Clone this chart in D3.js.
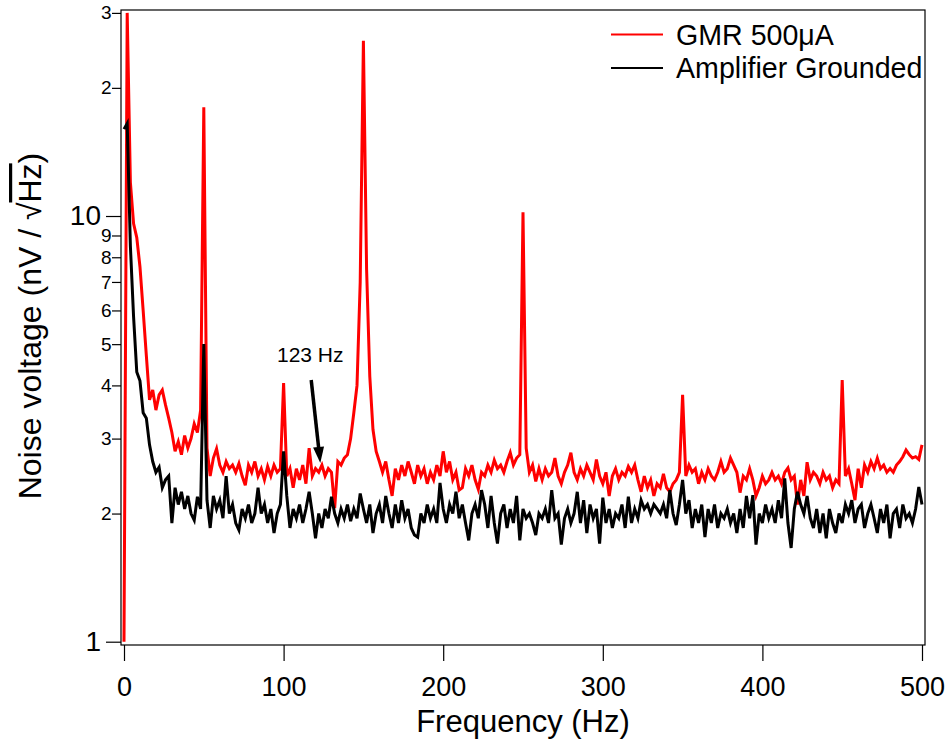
<!DOCTYPE html>
<html><head><meta charset="utf-8">
<script src="https://cdn.jsdelivr.net/npm/d3@7"></script>
<style>body{margin:0;background:#fff} text{font-family:"Liberation Sans", Arial, sans-serif; fill:#000}</style>
</head><body><svg id="c" width="950" height="747"></svg>
<script>
// ---------- data (2 Hz bins, 0..500 Hz) ----------
const freqStep = 2;
const gmr = [
1.0,30,12,9.6,8.9,7.6,6.0,4.7,3.7,3.9,3.5,3.8,3.9,3.6,3.35,3.1,2.8,2.95,2.75,3.05,
2.85,3.0,3.25,3.1,3.5,18,2.85,2.45,2.7,2.84,2.6,2.5,2.65,2.55,2.6,2.5,2.62,2.45,2.33,2.6,
2.5,2.65,2.45,2.55,2.4,2.58,2.45,2.6,2.5,2.55,4.05,2.45,2.55,2.3,2.55,2.4,2.6,2.35,2.85,2.45,
2.55,2.5,2.6,2.45,2.55,2.5,2.06,2.65,2.6,2.7,2.75,3.0,3.45,4.0,7,25.8,7.5,4.2,3.15,2.8,
2.65,2.5,2.65,2.4,2.2,2.55,2.4,2.6,2.45,2.65,2.5,2.35,2.6,2.45,2.55,2.35,2.5,2.4,2.6,2.45,
2.8,2.5,2.65,2.4,2.5,2.27,2.3,2.55,2.45,2.6,2.4,2.28,2.5,2.45,2.6,2.5,2.67,2.55,2.6,2.5,
2.65,2.78,2.6,2.7,2.75,10.2,2.85,2.5,2.6,2.38,2.55,2.4,2.55,2.45,2.5,2.7,2.45,2.35,2.5,2.6,
2.78,2.5,2.4,2.55,2.45,2.6,2.5,2.4,2.68,2.45,2.35,2.5,2.2,2.45,2.55,2.4,2.5,2.45,2.58,2.5,
2.6,2.4,2.25,2.45,2.3,2.4,2.2,2.35,2.3,2.48,2.3,2.25,2.35,2.4,2.5,3.8,2.45,2.6,2.5,2.55,
2.35,2.5,2.4,2.55,2.45,2.4,2.5,2.65,2.5,2.55,2.7,2.6,2.5,2.24,2.45,2.4,2.55,2.4,2.2,2.3,
2.45,2.35,2.4,2.5,2.4,2.45,2.35,2.5,2.56,2.4,2.45,2.1,2.4,2.2,2.64,2.4,2.5,2.45,2.35,2.5,
2.4,2.45,2.3,2.4,2.35,4.12,2.45,2.55,2.35,2.15,2.55,2.3,2.6,2.5,2.65,2.55,2.7,2.55,2.6,2.5,
2.55,2.5,2.6,2.65,2.72,2.82,2.75,2.7,2.72,2.68,2.9];
const amplifier = [
16,16.5,8.5,5.8,4.3,4.1,3.45,3.35,2.9,2.65,2.5,2.57,2.3,2.4,2.45,1.9,2.3,2.1,2.25,2.05,
2.2,2.0,1.93,2.19,2.05,5.0,2.15,1.85,2.2,2.05,2.15,1.95,2.45,2.0,2.1,1.9,1.83,2.05,1.95,2.1,
1.9,2.0,2.3,2.0,2.1,1.9,2.05,1.8,2.0,2.1,2.8,2.2,1.85,2.05,1.95,2.1,1.9,2.05,2.25,2.0,
1.75,2.0,1.85,2.05,1.95,2.19,2.0,1.9,2.05,1.95,2.1,1.92,2.05,1.95,2.23,2.05,1.9,2.1,1.8,2.0,
2.1,1.9,2.2,2.0,1.85,2.1,1.9,2.15,1.95,2.05,1.85,1.78,1.76,2.0,1.9,2.1,1.95,2.05,1.9,2.36,
2.05,1.9,2.1,2.0,2.25,1.95,2.1,1.9,1.73,2.0,2.1,1.95,2.27,2.1,1.85,2.2,1.9,1.7,2.0,2.1,
1.85,2.05,1.9,2.2,1.73,2.05,1.95,2.0,1.9,1.78,2.0,1.95,2.05,1.9,2.27,1.95,2.0,1.69,1.95,2.05,
1.9,2.0,2.25,1.9,2.15,1.8,2.1,1.95,2.05,1.7,2.18,1.9,2.05,1.85,2.0,1.95,2.1,1.85,2.19,1.9,
2.05,1.95,2.15,2.05,2.1,2.0,2.1,2.05,2.0,2.1,1.95,2.27,2.0,1.88,2.1,2.4,2.0,2.15,1.85,2.05,
1.9,2.1,1.76,2.05,1.9,2.1,1.85,2.0,1.95,2.05,1.9,2.0,1.8,2.05,1.85,2.2,1.95,2.21,1.69,2.0,
1.9,2.1,1.95,2.05,1.9,2.15,1.95,2.42,1.9,1.66,2.05,2.25,2.1,2.0,2.2,1.95,1.85,2.05,1.8,2.0,
1.75,2.05,1.9,1.8,2.0,1.9,2.1,2.0,2.15,1.9,2.05,2.1,1.85,2.0,2.1,1.95,1.8,2.05,1.9,2.1,
1.75,2.0,2.05,1.85,2.1,1.95,2.0,1.9,2.05,2.31,2.1];
const seriesNames = ["GMR 500μA", "Amplifier Grounded"];
const seriesColors = ["#ff0000", "#000000"];
const xTicks = [0, 100, 200, 300, 400, 500];
const yTicks = [1, 2, 3, 4, 5, 6, 7, 8, 9, 10, 20, 30];
const xTitle = "Frequency (Hz)";
const annotationLabel = "123 Hz";
const annotationTip = [123, 2.63];
const annotationTail = [117.3, 4.12];

// ---------- layout ----------
const svg = d3.select("#c");
const frame = {left: 121, right: 925, top: 10, bottom: 645};
const x = d3.scaleLinear().domain([0, 500]).range([124, 922]);
const y = d3.scaleLog().domain([1, 30]).range([641.7, 12.9]);

svg.append("defs").append("clipPath").attr("id", "clip")
  .append("rect").attr("x", frame.left).attr("y", frame.top)
  .attr("width", frame.right - frame.left).attr("height", frame.bottom - frame.top);

const line = d3.line().x((d, i) => x(i * freqStep)).y(d => y(d));
const plot = svg.append("g").attr("clip-path", "url(#clip)");
[gmr, amplifier].forEach((s, k) => {
  plot.append("path").datum(s).attr("d", line)
    .attr("fill", "none").attr("stroke", seriesColors[k]).attr("stroke-width", 3);
});

// frame
svg.append("rect").attr("x", frame.left).attr("y", frame.top)
  .attr("width", frame.right - frame.left).attr("height", frame.bottom - frame.top)
  .attr("fill", "none").attr("stroke", "#000").attr("stroke-width", 1.2);

// y axis
const isMajor = d => d === 1 || d === 10;
const gy = svg.append("g").attr("transform", `translate(${frame.left},0)`)
  .call(d3.axisLeft(y).tickValues(yTicks)
    .tickFormat(v => v === 10 ? "10" : String(v >= 10 ? v / 10 : v)).tickSizeOuter(0));
gy.select(".domain").remove();
gy.selectAll(".tick line").attr("x2", d => isMajor(d) ? -15 : -9).attr("stroke", "#000").attr("stroke-width", 1.2);
gy.selectAll(".tick text").attr("x", d => isMajor(d) ? -20 : -9.5)
  .attr("font-family", "Liberation Sans, Arial, sans-serif")
  .attr("font-size", d => isMajor(d) ? 28 : 19).attr("fill", "#000");

// x axis
const gx = svg.append("g").attr("transform", `translate(0,${frame.bottom})`)
  .call(d3.axisBottom(x).tickValues(xTicks).tickSize(16).tickSizeOuter(0));
gx.select(".domain").remove();
gx.selectAll(".tick line").attr("stroke", "#000").attr("stroke-width", 1.2);
gx.selectAll(".tick text").attr("y", 51).attr("dy", 0)
  .attr("font-family", "Liberation Sans, Arial, sans-serif")
  .attr("font-size", 27).attr("fill", "#000");

// axis titles
svg.append("text").attr("x", (x(0) + x(500)) / 2).attr("y", 732)
  .attr("text-anchor", "middle").style("font-size", "31px").text(xTitle);

const yl = svg.append("text").attr("transform", "translate(41,326) rotate(-90)")
  .attr("text-anchor", "middle").style("font-size", "32px");
yl.append("tspan").text("Noise voltage (nV / ");
yl.append("tspan").text("√");
yl.append("tspan").style("text-decoration", "overline").text("Hz");
yl.append("tspan").text(")");

// legend
const lg = svg.append("g");
seriesNames.forEach((n, k) => {
  const ly = 34.5 + k * 33.5;
  lg.append("line").attr("x1", 611).attr("x2", 663).attr("y1", ly).attr("y2", ly)
    .attr("stroke", seriesColors[k]).attr("stroke-width", 2);
  lg.append("text").attr("x", 676).attr("y", ly + 10).style("font-size", "28.6px").text(n);
});

// annotation
const tip = [x(annotationTip[0]), y(annotationTip[1])];
const tail = [x(annotationTail[0]), y(annotationTail[1])];
const dx = tip[0] - tail[0], dy = tip[1] - tail[1];
const len = Math.hypot(dx, dy), ux = dx / len, uy = dy / len;
const hl = 16, hw = 5.5;
const base = [tip[0] - ux * hl, tip[1] - uy * hl];
svg.append("line").attr("x1", tail[0]).attr("y1", tail[1]).attr("x2", base[0] + ux * 2).attr("y2", base[1] + uy * 2)
  .attr("stroke", "#000").attr("stroke-width", 3.5);
svg.append("polygon").attr("points", [
  tip, [base[0] - uy * hw, base[1] + ux * hw], [base[0] + uy * hw, base[1] - ux * hw]
].map(p => p.join(",")).join(" ")).attr("fill", "#000");
svg.append("text").attr("x", 277).attr("y", 362).style("font-size", "21px").text(annotationLabel);
</script></body></html>
